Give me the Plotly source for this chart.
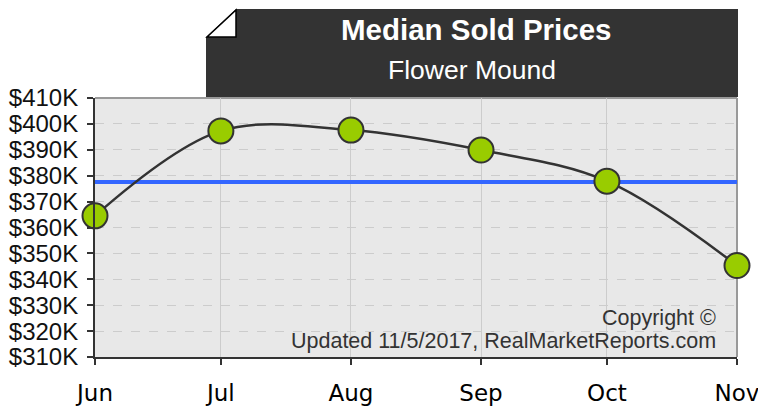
import plotly.graph_objects as go

# ---- data ----
months = ["2017-06-01", "2017-07-01", "2017-08-01", "2017-09-01", "2017-10-01", "2017-11-01"]
month_labels = ["Jun", "Jul", "Aug", "Sep", "Oct", "Nov"]
median_prices = [364500, 397300, 397600, 389900, 377900, 345300]
average_price = 377600
y_ticks = [310000, 320000, 330000, 340000, 350000, 360000, 370000, 380000, 390000, 400000, 410000]
y_tick_labels = ["$310K", "$320K", "$330K", "$340K", "$350K", "$360K", "$370K", "$380K", "$390K", "$400K", "$410K"]
title_text = "Median Sold Prices"
subtitle_text = "Flower Mound"
copyright_lines = ["Copyright ©", "Updated 11/5/2017, RealMarketReports.com"]

W, H = 758, 406
L, R, T, B = 95, 21, 98, 49
PW, PH = W - L - R, H - T - B

def px(x):
    return (x - L) / PW

def py(y):
    return (H - B - y) / PH

fig = go.Figure()

fig.add_trace(go.Scatter(
    x=[months[0], months[-1]], y=[average_price, average_price],
    mode="lines", line=dict(color="#3366ff", width=4),
    hoverinfo="skip", showlegend=False, cliponaxis=False))

fig.add_trace(go.Scatter(
    x=months, y=median_prices, mode="lines+markers",
    line=dict(color="#333333", width=2.5, shape="spline", smoothing=1.0),
    marker=dict(size=25, color="#99cc00", line=dict(color="#333333", width=2)),
    cliponaxis=False, showlegend=False))

shapes = []
# title box with folded corner
shapes.append(dict(type="path", xref="paper", yref="paper",
                   path=f"M {px(206)} {py(37)} L {px(236)} {py(9)} L {px(738)} {py(9)} L {px(738)} {py(97)} L {px(206)} {py(97)} Z",
                   fillcolor="#333333", line=dict(width=0), layer="above"))
shapes.append(dict(type="path", xref="paper", yref="paper",
                   path=f"M {px(207)} {py(37)} L {px(236)} {py(10)} L {px(236)} {py(37)} Z",
                   fillcolor="#ffffff", line=dict(color="#000000", width=1.5), layer="above"))
# plot frame: gray top/right
shapes.append(dict(type="line", xref="paper", yref="paper", x0=0, x1=1, y0=1, y1=1,
                   line=dict(color="#999999", width=2), layer="below"))
shapes.append(dict(type="line", xref="paper", yref="paper", x0=1, x1=1, y0=0, y1=1,
                   line=dict(color="#999999", width=2), layer="below"))

annotations = [
    dict(x=px(476), y=py(29), xref="paper", yref="paper", text=f"<b>{title_text}</b>",
         showarrow=False, font=dict(family="Liberation Sans, Arial", size=29.5, color="white"),
         xanchor="center", yanchor="middle"),
    dict(x=px(472), y=py(70), xref="paper", yref="paper", text=subtitle_text,
         showarrow=False, font=dict(family="Liberation Sans, Arial", size=26.5, color="white"),
         xanchor="center", yanchor="middle"),
    dict(x=px(718), y=py(318), xref="paper", yref="paper", text=copyright_lines[0],
         showarrow=False, font=dict(family="Liberation Sans, Arial", size=21.5, color="#333333"),
         xanchor="right", yanchor="middle"),
    dict(x=px(718), y=py(341), xref="paper", yref="paper", text=copyright_lines[1],
         showarrow=False, font=dict(family="Liberation Sans, Arial", size=21.5, color="#333333"),
         xanchor="right", yanchor="middle"),
]

fig.update_layout(
    width=W, height=H,
    margin=dict(l=L, r=R, t=T, b=B, autoexpand=False),
    paper_bgcolor="white", plot_bgcolor="#e8e8e8",
    shapes=shapes, annotations=annotations,
    xaxis=dict(type="date", range=[months[0], months[-1]],
               tickvals=months, ticktext=month_labels,
               tickfont=dict(family="DejaVu Sans", size=23, color="black"),
               ticks="outside", ticklen=6, tickcolor="#333333", tickwidth=1.5,
               showline=True, linecolor="#333333", linewidth=2,
               showgrid=True, gridcolor="#cccccc", gridwidth=1,
               zeroline=False, ticklabelstandoff=8, automargin=False,
               ticklabeloverflow="allow"),
    yaxis=dict(range=[310000, 410000], tickvals=y_ticks, ticktext=y_tick_labels,
               tickfont=dict(family="Liberation Sans, Arial", size=24, color="#111111"),
               ticks="outside", ticklen=6, tickcolor="#333333", tickwidth=1.5,
               showline=True, linecolor="#333333", linewidth=2,
               showgrid=True, gridcolor="#cccccc", gridwidth=1, griddash="dash",
               zeroline=False, ticklabelstandoff=4, automargin=False),
)

fig.write_html("out.html", config={"displayModeBar": False},
               post_script="document.body.style.margin='0';document.body.style.overflow='hidden';")
